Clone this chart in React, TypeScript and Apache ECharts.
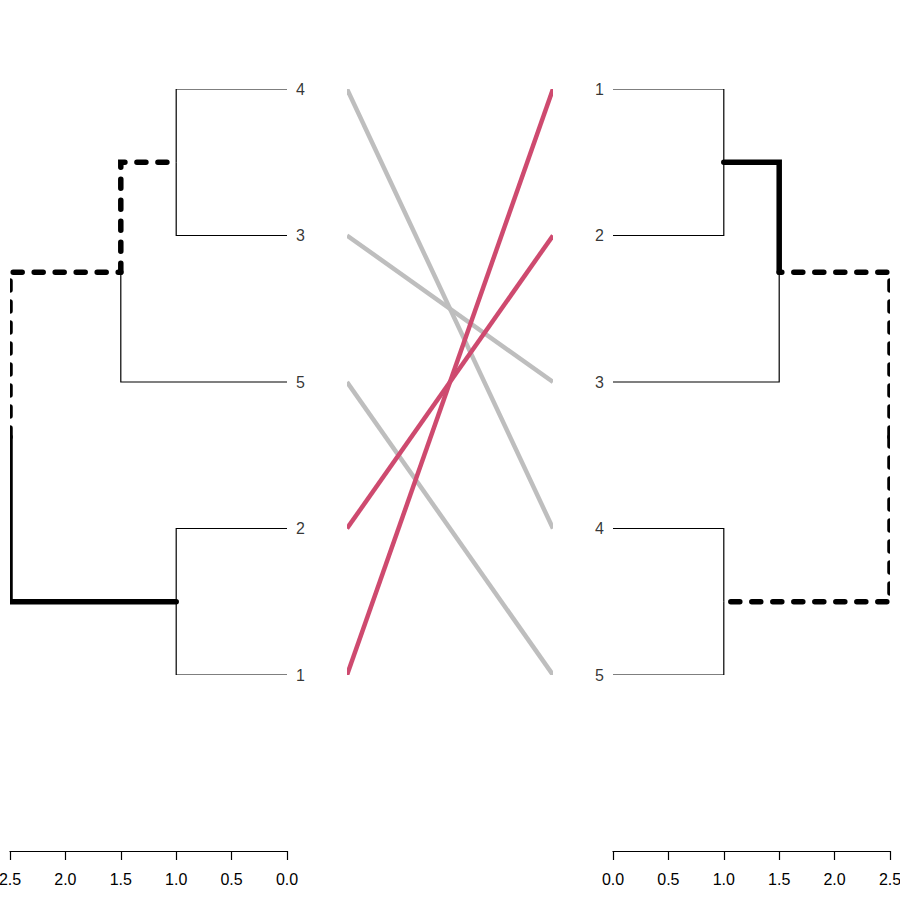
import * as echarts from "echarts";
import { useEffect, useRef } from "react";

// leaf labels from top to bottom, positions 5..1
const leftLeaves = ["4", "3", "5", "2", "1"];
const rightLeaves = ["1", "2", "3", "4", "5"];

// nodes: name, height, children, edge style for each child
type Node = { name: string; h: number; kids: string[]; styles: string[] };
const leftNodes: Node[] = [
  { name: "a", h: 1, kids: ["4", "3"], styles: ["thin", "thin"] },
  { name: "b", h: 1.5, kids: ["a", "5"], styles: ["dash", "thin"] },
  { name: "c", h: 1, kids: ["2", "1"], styles: ["thin", "thin"] },
  { name: "root", h: 2.5, kids: ["b", "c"], styles: ["dash", "thick"] },
];
const rightNodes: Node[] = [
  { name: "a", h: 1, kids: ["1", "2"], styles: ["thin", "thin"] },
  { name: "b", h: 1.5, kids: ["a", "3"], styles: ["thick", "thin"] },
  { name: "c", h: 1, kids: ["4", "5"], styles: ["thin", "thin"] },
  { name: "root", h: 2.5, kids: ["b", "c"], styles: ["dash", "dash"] },
];
// connector colours, by leaf label
const linkColor: Record<string, string> = {
  "1": "#CE4A6F", "2": "#CE4A6F", "3": "#BEBEBE", "4": "#BEBEBE", "5": "#BEBEBE",
};

const styleOf = (s: string) =>
  s === "thin"
    ? { color: "#000", width: 1.2, type: "solid" as const, opacity: 1 }
    : s === "thick"
      ? { color: "#000", width: 5.5, type: "solid" as const, cap: "round" as const, opacity: 1 }
      : { color: "#000", width: 5.5, type: [9, 12], cap: "round" as const, opacity: 1 };

function buildEdges(leaves: string[], nodes: Node[]) {
  const pos: Record<string, { h: number; y: number }> = {};
  leaves.forEach((l, i) => (pos[l] = { h: 0, y: 5 - i }));
  const out: any[] = [];
  nodes.forEach((n) => {
    const ys = n.kids.map((k) => pos[k].y);
    const y = (ys[0] + ys[1]) / 2;
    pos[n.name] = { h: n.h, y };
    n.kids.forEach((k, i) => {
      out.push({
        coords: [[n.h, y], [n.h, pos[k].y], [pos[k].h, pos[k].y]],
        lineStyle: styleOf(n.styles[i]),
      });
    });
  });
  return out;
}

const font = "Liberation Sans";
const axisCommon = {
  type: "value" as const,
  min: 0,
  max: 2.5,
  interval: 0.5,
  offset: 176,
  axisLine: { show: true, lineStyle: { color: "#000", width: 1.2 } },
  axisTick: { show: true, length: 9, lineStyle: { color: "#000", width: 1.2 } },
  axisLabel: { color: "#000", fontSize: 16, margin: 20, fontFamily: font, showMinLabel: true, showMaxLabel: true, formatter: (v: number) => v.toFixed(1) },
  splitLine: { show: false },
};
const yHidden = { type: "value" as const, min: 1, max: 5, show: false };

export default function App() {
  const ref = useRef<HTMLDivElement | null>(null);
  useEffect(() => {
    document.body.style.margin = "0";
    const chart = echarts.init(ref.current!, undefined, { renderer: "svg" });
    const links = leftLeaves.map((l, i) => ({
      coords: [[0, 5 - i], [1, 5 - rightLeaves.indexOf(l)]],
      lineStyle: { color: linkColor[l], width: 4.5, opacity: 1 },
    }));
    links.sort((a, b) => (a.lineStyle.color === "#BEBEBE" ? -1 : 1) - (b.lineStyle.color === "#BEBEBE" ? -1 : 1));
    const lbl = { fontSize: 16, color: "#000", fontFamily: font };
    const g = { top: 89, height: 586, containLabel: false, outerBoundsMode: "none" };
    chart.setOption({
      animation: false,
      textStyle: { fontFamily: font },
      grid: [
        { ...g, left: 10, width: 277 },
        { ...g, left: 347, width: 206 },
        { ...g, left: 613, width: 277 },
      ],
      xAxis: [
        { ...axisCommon, gridIndex: 0, inverse: true },
        { type: "value", gridIndex: 1, min: 0, max: 1, show: false },
        { ...axisCommon, gridIndex: 2 },
      ],
      yAxis: [
        { ...yHidden, gridIndex: 0 },
        { ...yHidden, gridIndex: 1 },
        { ...yHidden, gridIndex: 2 },
      ],
      series: [
        { type: "lines", coordinateSystem: "cartesian2d", polyline: true, xAxisIndex: 0, yAxisIndex: 0, data: buildEdges(leftLeaves, leftNodes) },
        { type: "lines", coordinateSystem: "cartesian2d", polyline: true, xAxisIndex: 2, yAxisIndex: 2, data: buildEdges(rightLeaves, rightNodes) },
        { type: "lines", coordinateSystem: "cartesian2d", xAxisIndex: 1, yAxisIndex: 1, data: links },
        {
          type: "scatter", xAxisIndex: 0, yAxisIndex: 0, symbolSize: 0,
          data: leftLeaves.map((l, i) => ({ value: [0, 5 - i], name: l })),
          label: { show: true, position: "right", distance: 9, formatter: "{b}", ...lbl },
        },
        {
          type: "scatter", xAxisIndex: 2, yAxisIndex: 2, symbolSize: 0,
          data: rightLeaves.map((l, i) => ({ value: [0, 5 - i], name: l })),
          label: { show: true, position: "left", distance: 9, formatter: "{b}", ...lbl },
        },
      ],
    });
    return () => chart.dispose();
  }, []);
  return <div ref={ref} style={{ width: 900, height: 900 }} />;
}
